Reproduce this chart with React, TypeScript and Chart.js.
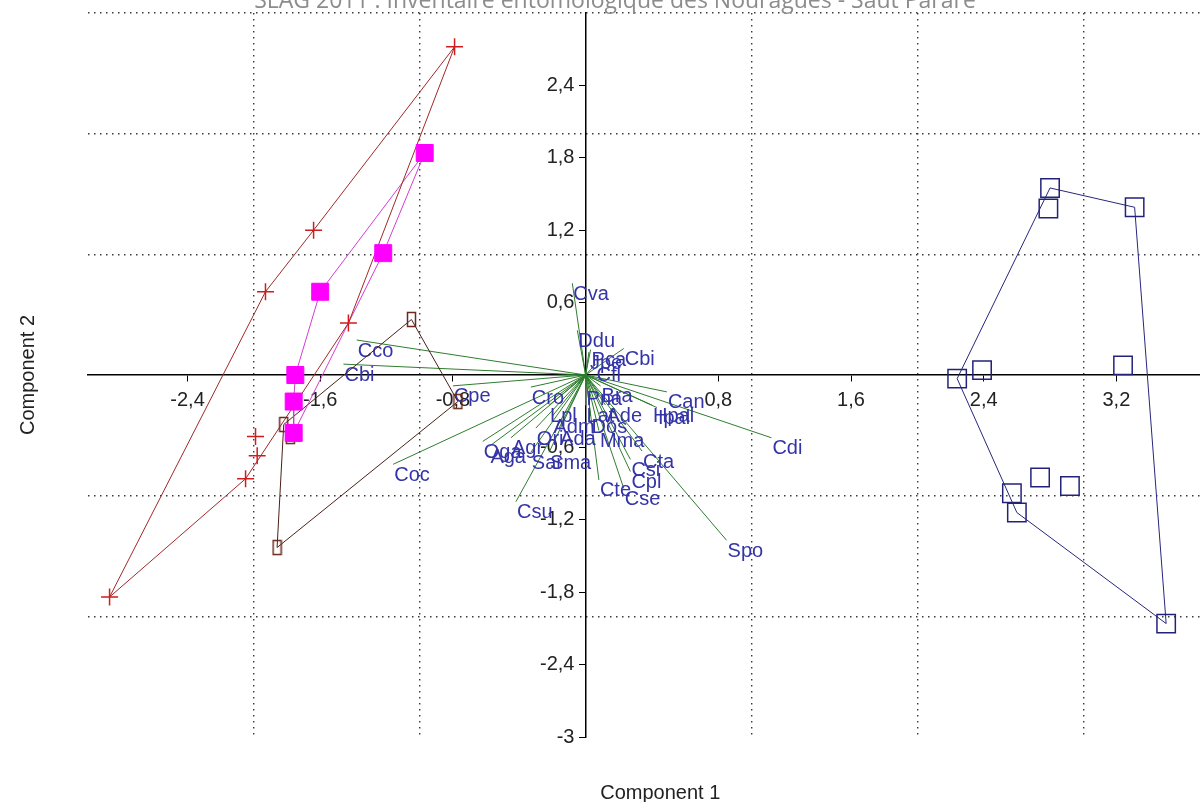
import React, { useEffect, useRef } from 'react';
import { Chart, registerables } from 'chart.js';

Chart.register(...registerables);

const chartTitle = 'SLAG 2011 : Inventaire entomologique des Nouragues - Saut Pararé';
const xTitle = 'Component 1';
const yTitle = 'Component 2';

// axis tick labels (crossing axes) and dotted grid positions
const xTickValues = [-2.4, -1.6, -0.8, 0, 0.8, 1.6, 2.4, 3.2];
const yTickValues = [-3, -2.4, -1.8, -1.2, -0.6, 0, 0.6, 1.2, 1.8, 2.4];
const xGridValues = [-2, -1, 1, 2, 3];
const yGridValues = [-2, -1, 1, 2, 3];
const xMin = -3;
const xMax = 3.9;
const yMin = -3;
const yMax = 3;

// group 1: red crosses
const redX = [-0.79, -1.64, -1.93, -1.43, -1.99, -1.98, -2.05, -2.87];
const redY = [2.72, 1.2, 0.69, 0.43, -0.51, -0.67, -0.86, -1.84];
const redHull = [0, 1, 2, 7, 6, 3, 0];

// group 2: magenta filled squares
const magX = [-0.97, -1.22, -1.6, -1.75, -1.76, -1.76];
const magY = [1.84, 1.01, 0.69, 0.0, -0.22, -0.48];
const magHull = [0, 2, 3, 4, 5, 1, 0];

// group 3: brown open rectangles
const brownX = [-1.05, -0.77, -1.82, -1.78, -1.86];
const brownY = [0.46, -0.22, -0.41, -0.51, -1.43];
const brownHull = [0, 1, 4, 2, 0];

// group 4: navy open squares
const navyX = [2.8, 2.79, 3.31, 2.24, 2.39, 3.24, 2.74, 2.92, 2.57, 2.6, 3.5];
const navyY = [1.55, 1.38, 1.39, -0.03, 0.04, 0.08, -0.85, -0.92, -0.98, -1.14, -2.06];
const navyHull = [3, 0, 2, 10, 9, 3];

// variable loadings (biplot vectors)
const varLabels = ['Cva', 'Ddu', 'Pca', 'Jpe', 'Cbi', 'Cfl', 'Cco', 'Cbi', 'Cpe', 'Coc', 'Cro', 'Csu', 'Oga', 'Aga', 'Agr', 'Ori', 'Ada', 'Sar', 'Sma', 'Mma', 'Adm', 'Dos', 'Lpl', 'Lat', 'Ade', 'Pna', 'Bra', 'Can', 'Hpal', 'Ipal', 'Cdi', 'Cta', 'Csi', 'Cpl', 'Cte', 'Cse', 'Spo'];
const varX = [-0.08, -0.05, 0.03, 0.02, 0.23, 0.06, -1.38, -1.46, -0.8, -1.16, -0.33, -0.42, -0.62, -0.58, -0.45, -0.3, -0.16, -0.33, -0.22, 0.08, -0.2, 0.03, -0.22, 0.0, 0.12, 0.0, 0.09, 0.49, 0.4, 0.43, 1.12, 0.34, 0.27, 0.27, 0.08, 0.23, 0.85];
const varY = [0.76, 0.37, 0.21, 0.19, 0.22, 0.09, 0.29, 0.09, -0.09, -0.74, -0.1, -1.05, -0.55, -0.59, -0.52, -0.44, -0.44, -0.64, -0.64, -0.46, -0.34, -0.34, -0.25, -0.25, -0.25, -0.11, -0.09, -0.14, -0.25, -0.27, -0.52, -0.63, -0.7, -0.8, -0.87, -0.94, -1.37];

const FONT = "'Liberation Sans', Arial, Helvetica, sans-serif";

const fmt = (v: number) => (v === 0 ? '' : String(v).replace('.', ','));

const pts = (xs: number[], ys: number[]) => xs.map((x, i) => ({ x, y: ys[i] }));
const hullPts = (xs: number[], ys: number[], order: number[]) => order.map((i) => ({ x: xs[i], y: ys[i] }));

const CANVAS_W = 1264;
const CANVAS_H = 825;

export default function App() {
  const ref = useRef<HTMLCanvasElement>(null);

  useEffect(() => {
    const canvas = ref.current!;
    const brownMarker = document.createElement('canvas');
    brownMarker.width = 11;
    brownMarker.height = 17;
    const bctx = brownMarker.getContext('2d')!;
    bctx.strokeStyle = '#6a2a1c';
    bctx.lineWidth = 1.5;
    bctx.strokeRect(1.5, 1.5, 8, 14);

    const labelPlugin = {
      id: 'varLabels',
      afterDatasetDraw(chart: any, args: any) {
        if (args.index !== 0) return;
        const { ctx, scales } = chart;
        ctx.save();
        ctx.font = `20px ${FONT}`;
        ctx.fillStyle = '#3434a8';
        ctx.textAlign = 'left';
        ctx.textBaseline = 'top';
        varLabels.forEach((t, i) => {
          const px = scales.x.getPixelForValue(varX[i]);
          const py = scales.y.getPixelForValue(varY[i]);
          ctx.fillText(t, px + 1, py + 1);
        });
        ctx.restore();
      },
    };

    const vectorSets = varLabels.map((_, i) => ({
      data: [{ x: 0, y: 0 }, { x: varX[i], y: varY[i] }],
      showLine: true,
      borderColor: '#2e7d2e',
      borderWidth: 1,
      pointRadius: 0,
      order: 10,
    }));

    const hull = (data: any[], color: string) => ({
      data,
      showLine: true,
      borderColor: color,
      borderWidth: 1,
      pointRadius: 0,
      order: 5,
    });

    const chart = new Chart(canvas, {
      type: 'scatter',
      data: {
        datasets: [
          ...vectorSets,
          hull(hullPts(redX, redY, redHull), '#a02828'),
          hull(hullPts(magX, magY, magHull), '#d23cd2'),
          hull(hullPts(brownX, brownY, brownHull), '#4a2018'),
          hull(hullPts(navyX, navyY, navyHull), '#26267e'),
          {
            data: pts(redX, redY),
            pointStyle: 'cross',
            pointRadius: 8.5,
            borderColor: '#d01c1c',
            borderWidth: 1.5,
            order: 1,
          },
          {
            data: pts(magX, magY),
            pointStyle: 'rect',
            pointRadius: 12,
            backgroundColor: '#ff00ff',
            borderColor: '#ff00ff',
            borderWidth: 1,
            order: 1,
          },
          {
            data: pts(brownX, brownY),
            pointStyle: brownMarker,
            pointRadius: 8,
            order: 1,
          },
          {
            data: pts(navyX, navyY),
            pointStyle: 'rect',
            pointRadius: 13,
            backgroundColor: 'rgba(0,0,0,0)',
            borderColor: '#22227a',
            borderWidth: 1.5,
            order: 1,
          },
        ] as any,
      },
      options: {
        responsive: false,
        animation: false,
        devicePixelRatio: 1,
        layout: { padding: 0 },
        font: { family: FONT },
        plugins: {
          legend: { display: false },
          tooltip: { enabled: false },
          title: {
            display: true,
            text: chartTitle,
            color: '#8c8c8c',
            font: { family: "'Open Sans', 'DejaVu Sans', sans-serif", size: 23, weight: 'normal', lineHeight: 1 },
            padding: { top: 9.5, bottom: 0.5 },
          },
        },
        scales: {
          x: {
            type: 'linear',
            axis: 'x',
            position: { y: 0 },
            min: xMin,
            max: xMax,
            afterBuildTicks: (s: any) => {
              s.ticks = xTickValues.map((v) => ({ value: v }));
            },
            ticks: {
              autoSkip: false,
              maxRotation: 0,
              minRotation: 0,
              padding: 7,
              color: '#222',
              font: { family: FONT, size: 20 },
              callback: (v: any) => fmt(Number(v)),
            },
            grid: { display: true, drawOnChartArea: false, drawTicks: true, tickLength: 6, color: '#000', lineWidth: 1 },
            border: { display: true, color: '#000', width: 1.5 },
          },
          y: {
            type: 'linear',
            axis: 'y',
            position: { x: 0 },
            min: yMin,
            max: yMax,
            afterBuildTicks: (s: any) => {
              s.ticks = yTickValues.map((v) => ({ value: v }));
            },
            ticks: {
              autoSkip: false,
              padding: 3,
              color: '#222',
              font: { family: FONT, size: 20 },
              callback: (v: any) => (Number(v) === 0 ? '' : fmt(Number(v)) + '  '),
            },
            grid: { display: true, drawOnChartArea: false, drawTicks: true, tickLength: 6, color: '#000', lineWidth: 1 },
            border: { display: true, color: '#000', width: 1.5 },
          },
          xg: {
            type: 'linear',
            axis: 'x',
            position: 'bottom',
            min: xMin,
            max: xMax,
            afterBuildTicks: (s: any) => {
              s.ticks = xGridValues.map((v) => ({ value: v }));
            },
            ticks: { display: false },
            grid: { display: true, drawOnChartArea: true, drawTicks: false, color: '#3a3a3a', lineWidth: 1.4 },
            border: { display: false, dash: [1.5, 4.5] },
            title: {
              display: true,
              text: xTitle,
              color: '#222',
              font: { family: FONT, size: 20 },
              padding: { top: 44, bottom: 0 },
            },
          },
          yg: {
            type: 'linear',
            axis: 'y',
            position: 'left',
            min: yMin,
            max: yMax,
            afterBuildTicks: (s: any) => {
              s.ticks = yGridValues.map((v) => ({ value: v }));
            },
            ticks: { display: false },
            grid: { display: true, drawOnChartArea: true, drawTicks: false, color: '#3a3a3a', lineWidth: 1.4 },
            border: { display: false, dash: [1.5, 4.5] },
            title: {
              display: true,
              text: yTitle,
              color: '#222',
              font: { family: FONT, size: 20 },
              padding: { top: 33, bottom: 48 },
            },
          },
        },
      } as any,
      plugins: [labelPlugin],
    });
    return () => chart.destroy();
  }, []);

  return (
    <div style={{ position: 'fixed', left: 0, top: 0, width: 1200, height: 802, overflow: 'hidden', background: '#fff' }}>
      <canvas
        ref={ref}
        width={CANVAS_W}
        height={CANVAS_H}
        style={{ position: 'absolute', left: -17, top: -20, width: CANVAS_W, height: CANVAS_H }}
      />
    </div>
  );
}
